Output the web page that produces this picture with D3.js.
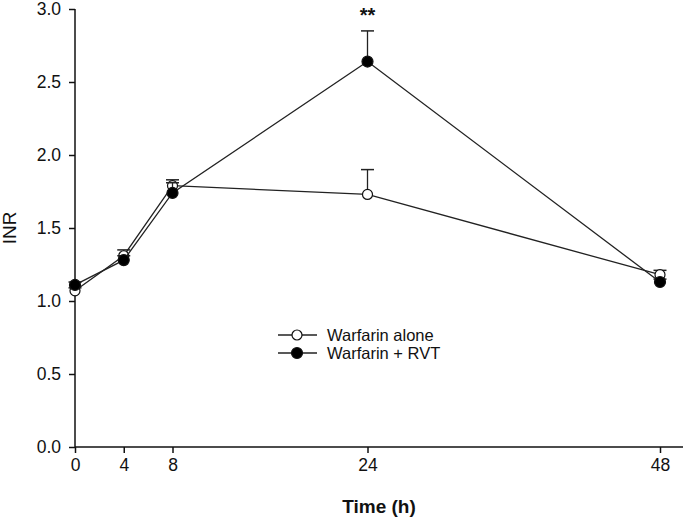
<!DOCTYPE html>
<html>
<head>
<meta charset="utf-8">
<script src="https://cdn.jsdelivr.net/npm/d3@7"></script>
<style>
  body { margin: 0; background: #fff; }
  text { font-family: "Liberation Sans", Arial, sans-serif; fill: #111; }
</style>
</head>
<body>
<div id="chart"></div>
<script>
const times = [0, 4, 8, 24, 48];
const xTicks = [0, 4, 8, 24, 48];
const yTicks = [0, 0.5, 1.0, 1.5, 2.0, 2.5, 3.0];

const aloneMean = [1.07, 1.31, 1.79, 1.73, 1.18];
const aloneErr = [0.02, 0.04, 0.04, 0.17, 0.03];
const rvtMean = [1.11, 1.28, 1.74, 2.64, 1.13];
const rvtErr = [0.02, 0.03, 0.07, 0.21, 0.02];

const seriesNames = ["Warfarin alone", "Warfarin + RVT"];

const chartWidth = 685, chartHeight = 530;
const plotLeft = 75, plotRight = 683, plotTop = 9, plotBottom = 447;

var svg = d3.select("#chart").append("svg")
    .attr("width", chartWidth)
    .attr("height", chartHeight);

x = d3.scaleLinear().domain([0, 48]).range([plotLeft, 660]);
y = d3.scaleLinear().domain([0, 3]).range([plotBottom, plotTop]);

// axes
const xAxis = svg.append("g")
    .attr("transform", `translate(0,${plotBottom})`)
    .call(d3.axisBottom(x).tickValues(xTicks).tickFormat(d3.format("d")).tickSize(6).tickSizeOuter(0).tickPadding(6));
xAxis.select(".domain").remove();
xAxis.selectAll("text").style("font-size", "17.5px").attr("font-family", null);

const yAxis = svg.append("g")
    .attr("transform", `translate(${plotLeft},0)`)
    .call(d3.axisLeft(y).tickValues(yTicks).tickFormat(d3.format(".1f")).tickSize(6).tickSizeOuter(0).tickPadding(8));
yAxis.select(".domain").remove();
yAxis.selectAll("text").style("font-size", "17.5px").attr("font-family", null);

svg.selectAll(".tick line").attr("stroke", "#111").attr("stroke-width", 1.5);

svg.append("line").attr("x1", plotLeft).attr("x2", plotRight).attr("y1", plotBottom).attr("y2", plotBottom)
    .attr("stroke", "#111").attr("stroke-width", 1.5);
svg.append("line").attr("x1", plotLeft).attr("x2", plotLeft).attr("y1", y(3)).attr("y2", plotBottom)
    .attr("stroke", "#111").attr("stroke-width", 1.5);

// labels
svg.append("text")
    .attr("transform", `translate(16,${y(1.5)}) rotate(-90)`)
    .attr("text-anchor", "middle")
    .style("font-size", "19px")
    .text("INR");

svg.append("text")
    .attr("x", (plotLeft + plotRight) / 2)
    .attr("y", 513)
    .attr("text-anchor", "middle")
    .style("font-size", "19px")
    .style("font-weight", "bold")
    .text("Time (h)");

const line = d3.line().x(d => x(d.t)).y(d => y(d.v));

function drawSeries(means, errs, filled) {
    const data = times.map((t, i) => ({t: t, v: means[i], e: errs[i]}));
    const g = svg.append("g");
    g.append("path")
        .datum(data)
        .attr("d", line)
        .attr("fill", "none")
        .attr("stroke", "#222")
        .attr("stroke-width", 1.3);
    const eb = g.selectAll(".err").data(data).enter().append("g");
    eb.append("line")
        .attr("x1", d => x(d.t)).attr("x2", d => x(d.t))
        .attr("y1", d => y(d.v)).attr("y2", d => y(d.v + d.e))
        .attr("stroke", "#222").attr("stroke-width", 1.3);
    eb.append("line")
        .attr("x1", d => x(d.t) - 6.5).attr("x2", d => x(d.t) + 6.5)
        .attr("y1", d => y(d.v + d.e)).attr("y2", d => y(d.v + d.e))
        .attr("stroke", "#222").attr("stroke-width", 1.5);
    g.selectAll("circle").data(data).enter().append("circle")
        .attr("cx", d => x(d.t))
        .attr("cy", d => y(d.v))
        .attr("r", filled ? 5.5 : 5)
        .attr("fill", filled ? "#000" : "#fff")
        .attr("stroke", "#111")
        .attr("stroke-width", 1.2);
}

drawSeries(aloneMean, aloneErr, false);
drawSeries(rvtMean, rvtErr, true);

// significance mark
svg.append("text")
    .attr("x", x(24))
    .attr("y", 22)
    .attr("text-anchor", "middle")
    .style("font-size", "20px")
    .style("font-weight", "bold")
    .text("**");

// legend
const legend = svg.append("g");
seriesNames.forEach((name, i) => {
    const ly = 335 + i * 18;
    legend.append("line").attr("x1", 278).attr("x2", 317).attr("y1", ly).attr("y2", ly)
        .attr("stroke", "#222").attr("stroke-width", 1.3);
    legend.append("circle").attr("cx", 297).attr("cy", ly).attr("r", i ? 5.5 : 5)
        .attr("fill", i ? "#000" : "#fff").attr("stroke", "#111").attr("stroke-width", 1.2);
    legend.append("text").attr("x", 327).attr("y", ly).attr("dy", "0.35em")
        .style("font-size", "16.5px")
        .text(name);
});
</script>
</body>
</html>
